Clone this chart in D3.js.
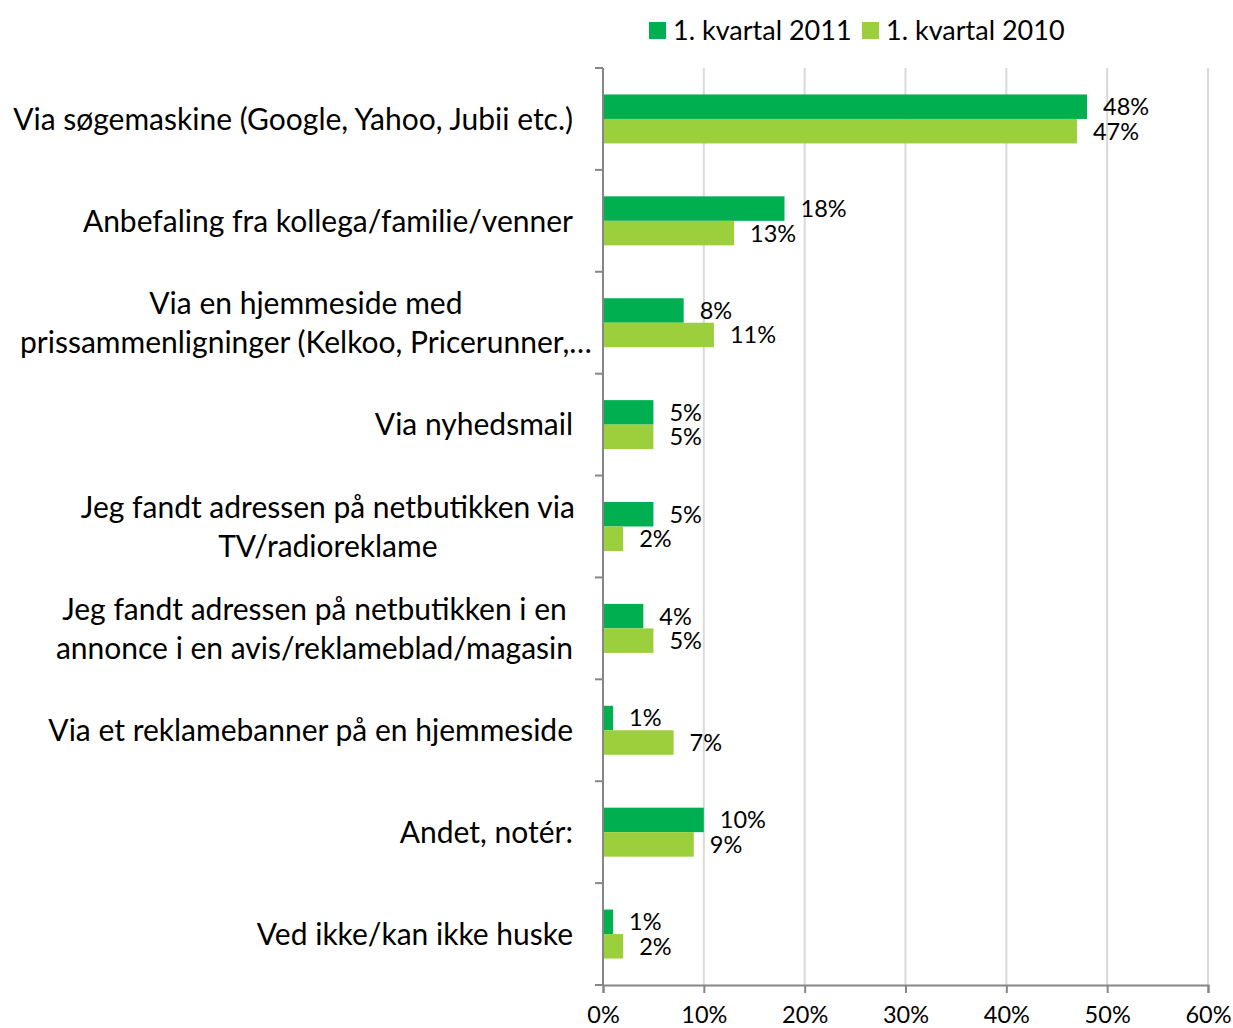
<!DOCTYPE html>
<html>
<head>
<meta charset="utf-8">
<script src="https://cdn.jsdelivr.net/npm/d3@7"></script>
<style>
  body { margin: 0; background: white; }
  text { font-family: Lato, "Open Sans", sans-serif; fill: #000; }
</style>
</head>
<body>
<svg id="chart"></svg>
<script>
var categories = [
  ["Via søgemaskine (Google, Yahoo, Jubii etc.)"],
  ["Anbefaling fra kollega/familie/venner"],
  ["Via en hjemmeside med", "prissammenligninger (Kelkoo, Pricerunner,…"],
  ["Via nyhedsmail"],
  ["Jeg fandt adressen på netbutikken via", "TV/radioreklame"],
  ["Jeg fandt adressen på netbutikken i en", "annonce i en avis/reklameblad/magasin"],
  ["Via et reklamebanner på en hjemmeside"],
  ["Andet, notér:"],
  ["Ved ikke/kan ikke huske"]
];
var series = ["1. kvartal 2011", "1. kvartal 2010"];
var values2011 = [48, 18, 8, 5, 5, 4, 1, 10, 1];
var values2010 = [47, 13, 11, 5, 2, 5, 7, 9, 2];
var xTicks = [0, 10, 20, 30, 40, 50, 60];

var colors = {"1. kvartal 2011": "#00b050", "1. kvartal 2010": "#9bcf3b"};

var W = 1233, H = 1028;
var m = {left: 603, right: 1208, top: 68, bottom: 985};

var svg = d3.select("#chart").attr("width", W).attr("height", H);

var keys = categories.map((c, i) => "c" + i);
var rows = keys.map((k, i) => ({key: k, lines: categories[i], vals: [values2011[i], values2010[i]]}));

var x = d3.scaleLinear().domain([0, 60]).range([m.left, m.right]);
var y0 = d3.scaleBand().domain(keys).range([m.top, m.bottom]);
var y1 = d3.scaleBand().domain(series).range([0, y0.bandwidth()]).paddingOuter(1.08);

// gridlines
svg.append("g").selectAll("line").data(xTicks.slice(1)).enter().append("line")
  .attr("x1", d => x(d)).attr("x2", d => x(d))
  .attr("y1", m.top).attr("y2", m.bottom)
  .attr("stroke", "#d9d9d9").attr("stroke-width", 2);

// bars
var grp = svg.append("g").selectAll("g").data(rows).enter().append("g")
  .attr("transform", d => "translate(0," + y0(d.key) + ")");

grp.selectAll("rect").data(d => d.vals.map((v, j) => ({s: series[j], v: v}))).enter().append("rect")
  .attr("x", x(0))
  .attr("y", d => y1(d.s))
  .attr("width", d => x(d.v) - x(0))
  .attr("height", y1.bandwidth())
  .attr("fill", d => colors[d.s]);

grp.selectAll("text.val").data(d => d.vals.map((v, j) => ({s: series[j], v: v}))).enter().append("text")
  .attr("class", "val")
  .attr("x", d => x(d.v) + 16)
  .attr("y", d => y1(d.s) + y1.bandwidth() / 2)
  .attr("dy", "0.36em")
  .style("font-size", "23.5px")
  .text(d => d.v + "%");

// y axis
var yAxis = svg.append("g").attr("transform", "translate(" + m.left + ",0)");
yAxis.append("line").attr("x1", 0).attr("x2", 0).attr("y1", m.top).attr("y2", m.bottom)
  .attr("stroke", "#868686").attr("stroke-width", 2);
yAxis.selectAll("line.tick").data(keys.concat(["end"])).enter().append("line")
  .attr("class", "tick")
  .attr("x1", -8).attr("x2", 0)
  .attr("y1", (d, i) => m.top + i * y0.step()).attr("y2", (d, i) => m.top + i * y0.step())
  .attr("stroke", "#868686").attr("stroke-width", 2);

// category labels: block right-aligned at 573, lines centred on each other
var lab = svg.append("g").selectAll("text").data(rows).enter().append("text")
  .style("font-size", "30px")
  .attr("y", d => y0(d.key) + y0.bandwidth() / 2);
lab.selectAll("tspan").data(d => d.lines.map((l, i) => ({l: l, n: d.lines.length, i: i}))).enter().append("tspan")
  .attr("dy", (d, i) => i === 0 ? ((0.36 - (d.n - 1) * 0.65) + "em") : "1.3em")
  .text(d => d.l);
lab.each(function(d) {
  var t = d3.select(this);
  if (d.lines.length === 1) {
    t.attr("text-anchor", "end");
    t.selectAll("tspan").attr("x", 573);
  } else {
    var maxW = 0;
    t.selectAll("tspan").each(function() { maxW = Math.max(maxW, this.getComputedTextLength()); });
    var cx = Math.max(573 - maxW / 2, 20 + maxW / 2);
    t.attr("text-anchor", "middle");
    t.selectAll("tspan").attr("x", cx);
  }
});

// x axis
var xAxis = d3.axisBottom(x).tickValues(xTicks).tickFormat(d => d + "%").tickSize(8).tickPadding(13);
var xg = svg.append("g").attr("transform", "translate(0," + m.bottom + ")").call(xAxis);
xg.select(".domain").attr("stroke", "#868686").attr("stroke-width", 2);
xg.selectAll(".tick line").attr("stroke", "#868686").attr("stroke-width", 2);
xg.selectAll(".tick text").style("font-size", "23.5px").style("font-family", "Lato, 'Open Sans', sans-serif").attr("fill", "#000");

// legend
var leg = svg.append("g").selectAll("g").data(series).enter().append("g")
  .attr("transform", (d, i) => "translate(" + (i === 0 ? 649 : 862) + ",22)");
leg.append("rect").attr("width", 17).attr("height", 17).attr("fill", d => colors[d]);
leg.append("text").attr("x", 24).attr("y", 8.5).attr("dy", "0.36em")
  .style("font-size", "27px").text(d => d);
</script>
</body>
</html>
